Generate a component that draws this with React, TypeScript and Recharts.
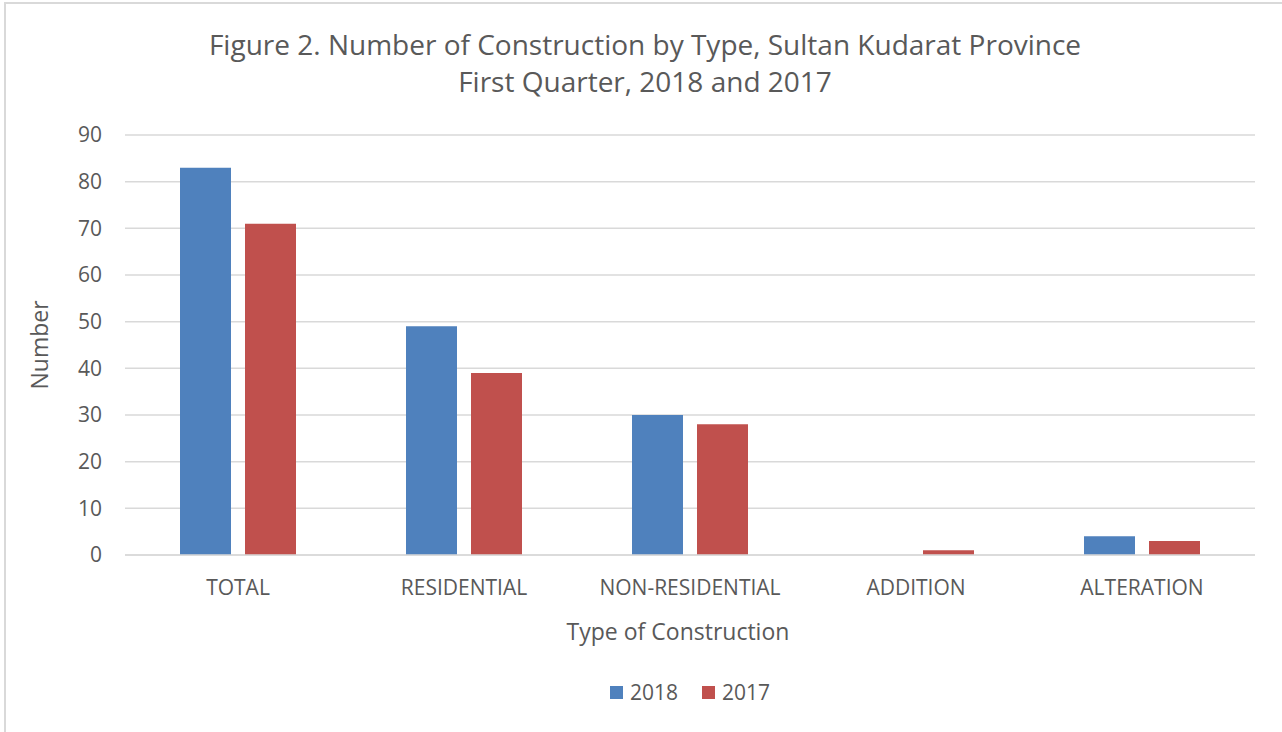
import React from 'react';
import { BarChart, Bar, XAxis, YAxis, CartesianGrid, Label } from 'recharts';

const categories = ['TOTAL', 'RESIDENTIAL', 'NON-RESIDENTIAL', 'ADDITION', 'ALTERATION'];
const values2018 = [83, 49, 30, 0, 4];
const values2017 = [71, 39, 28, 1, 3];
const yTicks = [0, 10, 20, 30, 40, 50, 60, 70, 80, 90];
const seriesNames = ['2018', '2017'];
const seriesColors = ['#4f81bd', '#c0504d'];

const data = categories.map((c, i) => ({ name: c, y2018: values2018[i], y2017: values2017[i] }));

const FONT = '"Open Sans", sans-serif';
const GREY = '#595959';

export default function App() {
  return (
    <div style={{ position: 'absolute', left: 0, top: 0, width: 1282, height: 732, background: '#fff', overflow: 'hidden', fontFamily: FONT }}>
      <div style={{ position: 'absolute', left: 4, top: 2, width: 1400, height: 800, border: '2px solid #d9d9d9', boxSizing: 'border-box' }} />
      <div style={{ position: 'absolute', left: 0, width: 1290, top: 26, textAlign: 'center', fontSize: 28, color: GREY, lineHeight: '37px' }}>
        Figure 2. Number of Construction by Type, Sultan Kudarat Province<br />First Quarter, 2018 and 2017
      </div>
      <div style={{ position: 'absolute', left: 0, top: 0 }}>
        <BarChart width={1282} height={732} data={data} margin={{ top: 135, right: 27, bottom: 117, left: 0 }} barSize={51} barGap={14}>
          <CartesianGrid vertical={false} stroke="#d9d9d9" strokeWidth={1.5} />
          <XAxis dataKey="name" height={60} tickLine={false} tickSize={0} tickMargin={25} axisLine={{ stroke: '#d9d9d9', strokeWidth: 1.5 }} tick={{ fill: GREY, fontSize: 21, fontFamily: FONT }}>
            <Label value="Type of Construction" position="insideBottom" offset={-25} dx={-12} style={{ fill: GREY, fontSize: 23, fontFamily: FONT }} />
          </XAxis>
          <YAxis width={125} domain={[0, 90]} ticks={yTicks} axisLine={false} tickLine={false} tickSize={0} tickMargin={23} tick={{ fill: GREY, fontSize: 21, fontFamily: FONT }}>
            <Label value="Number" angle={-90} position="insideLeft" offset={40} style={{ fill: GREY, fontSize: 23, fontFamily: FONT, textAnchor: 'middle' }} />
          </YAxis>
          <Bar dataKey="y2018" name="2018" fill={seriesColors[0]} isAnimationActive={false} />
          <Bar dataKey="y2017" name="2017" fill={seriesColors[1]} isAnimationActive={false} />
        </BarChart>
      </div>
      <div style={{ position: 'absolute', left: 0, width: 1380, top: 679, display: 'flex', justifyContent: 'center', fontSize: 21, color: GREY, lineHeight: '27px' }}>
        {seriesNames.map((n, i) => (
          <div key={n} style={{ display: 'flex', alignItems: 'center', marginLeft: i ? 24 : 0 }}>
            <span style={{ width: 13, height: 13, background: seriesColors[i], display: 'inline-block', marginRight: 7 }} />
            <span>{n}</span>
          </div>
        ))}
      </div>
    </div>
  );
}
